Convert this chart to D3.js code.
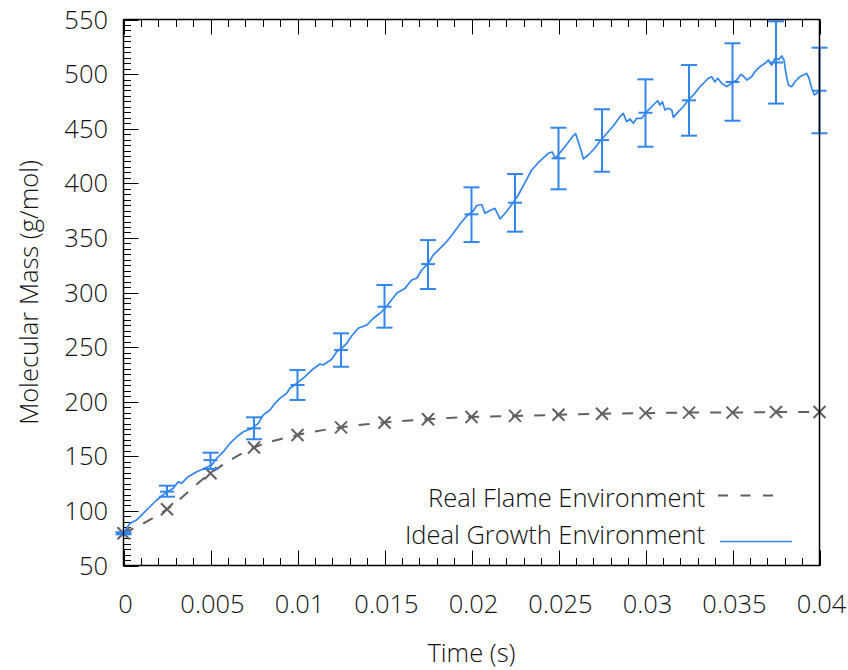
<!DOCTYPE html>
<html>
<head>
<meta charset="utf-8">
<script src="https://cdn.jsdelivr.net/npm/d3@7"></script>
<style>
  html, body { margin: 0; padding: 0; background: #fff; }
  svg text { font-family: "Open Sans", "Noto Sans", sans-serif; font-weight: 300; fill: #111; }
</style>
</head>
<body>
<svg id="chart" width="848" height="670"></svg>
<script>
// Ideal growth environment: simulated molecular mass trace
const idealTime = [0, 0.00037, 0.00076, 0.00114, 0.00162, 0.00191, 0.00239, 0.00286, 0.00315, 0.00334,
  0.00372, 0.00421, 0.00468, 0.00507, 0.00536, 0.00574, 0.00612, 0.00651, 0.00689, 0.00737,
  0.00775, 0.00803, 0.00842, 0.00871, 0.00899, 0.00938, 0.00957, 0.00995, 0.01043, 0.01082,
  0.01129, 0.01148, 0.01197, 0.01225, 0.01254, 0.01283, 0.01311, 0.01349, 0.01398, 0.01436,
  0.01474, 0.01503, 0.01532, 0.01570, 0.01618, 0.01656, 0.01685, 0.01714, 0.01752, 0.01780,
  0.01819, 0.01857, 0.01895, 0.01934, 0.01972, 0.02010, 0.02030, 0.02059, 0.02078, 0.02106,
  0.02135, 0.02164, 0.02202, 0.02240, 0.02269, 0.02307, 0.02346, 0.02382, 0.02413, 0.02441,
  0.02463, 0.02483, 0.02517, 0.02552, 0.02583, 0.02598, 0.02614, 0.02629, 0.02643, 0.02671,
  0.02704, 0.02739, 0.02779, 0.02819, 0.02853, 0.02872, 0.02892, 0.02911, 0.02930, 0.02949,
  0.02978, 0.03016, 0.03045, 0.03070, 0.03083, 0.03097, 0.03112, 0.03131, 0.03151, 0.03160,
  0.03189, 0.03217, 0.03246, 0.03284, 0.03313, 0.03342, 0.03361, 0.03380, 0.03399, 0.03415,
  0.03438, 0.03467, 0.03495, 0.03524, 0.03549, 0.03562, 0.03582, 0.03610, 0.03629, 0.03658,
  0.03687, 0.03706, 0.03725, 0.03744, 0.03767, 0.03783, 0.03796, 0.03807, 0.03821, 0.03840,
  0.03859, 0.03888, 0.03907, 0.03926, 0.03940, 0.03955, 0.03970, 0.03984, 0.04000];
const idealMass = [79.8, 88.6, 91.7, 97.8, 105.4, 110.0, 116.1, 120.7, 126.7, 125.3,
  131.3, 135.9, 139.0, 142.0, 148.2, 154.2, 161.9, 167.9, 172.5, 175.6,
  180.2, 187.8, 192.4, 198.5, 203.1, 207.7, 212.3, 216.8, 222.9, 229.0,
  234.5, 233.6, 238.8, 245.8, 248.9, 253.5, 260.2, 267.2, 270.2, 276.4,
  281.0, 285.5, 291.6, 299.3, 303.8, 311.4, 313.0, 320.6, 326.7, 334.3,
  340.5, 346.5, 354.2, 362.7, 370.1, 374.6, 379.7, 380.6, 372.5, 375.1,
  377.1, 367.3, 374.2, 382.4, 389.3, 400.7, 412.2, 418.6, 423.2, 427.5,
  428.7, 422.9, 429.6, 436.6, 443.3, 445.6, 437.8, 430.5, 422.3, 425.9,
  431.4, 438.7, 445.8, 453.4, 461.0, 464.1, 456.4, 458.9, 454.9, 459.5,
  459.5, 467.1, 471.7, 475.6, 471.7, 474.7, 467.1, 468.7, 467.1, 460.4,
  465.6, 470.1, 476.3, 482.4, 488.5, 493.0, 496.2, 497.6, 493.0, 496.2,
  491.6, 488.5, 491.6, 494.6, 499.8, 498.3, 494.6, 497.6, 502.2, 506.8,
  509.9, 512.9, 508.3, 514.5, 513.5, 516.6, 512.9, 500.7, 490.0, 488.5,
  493.0, 497.6, 499.2, 500.7, 496.2, 487.0, 480.9, 482.4, 484.8];

// Error bars on the ideal trace, every 2.5 ms
const errTime = [0, 0.0025, 0.005, 0.0075, 0.01, 0.0125, 0.015, 0.0175, 0.02,
  0.0225, 0.025, 0.0275, 0.03, 0.0325, 0.035, 0.0375, 0.04];
const errMean = [79.5, 117.6, 146.5, 175.6, 215.3, 247.3, 287.0, 326.0, 371.6,
  382.2, 422.9, 439.6, 464.6, 476.0, 492.8, 510.6, 484.8];
const errLow = [78.5, 113.0, 138.4, 165.6, 201.6, 232.0, 267.8, 303.2, 346.2,
  355.7, 394.5, 410.6, 433.5, 443.6, 457.3, 473.0, 445.8];
const errHigh = [80.5, 123.1, 153.3, 185.7, 229.0, 262.6, 306.9, 348.0, 396.3,
  408.5, 450.9, 467.8, 495.2, 508.3, 528.2, 548.3, 524.2];

// Real flame environment
const flameTime = [0, 0.0025, 0.005, 0.0075, 0.01, 0.0125, 0.015, 0.0175, 0.02,
  0.0225, 0.025, 0.0275, 0.03, 0.0325, 0.035, 0.0375, 0.04];
const flameMass = [79.5, 101.5, 134.5, 158.0, 169.5, 176.5, 181.0, 184.0, 186.0,
  187.0, 188.0, 189.0, 189.5, 190.0, 190.0, 190.5, 190.5];

// Axis ticks
const xTicks = [0, 0.005, 0.01, 0.015, 0.02, 0.025, 0.03, 0.035, 0.04];
const xTickLabels = ["0", "0.005", "0.01", "0.015", "0.02", "0.025", "0.03", "0.035", "0.04"];
const yTicks = [50, 100, 150, 200, 250, 300, 350, 400, 450, 500, 550];

const seriesNames = ["Real Flame Environment", "Ideal Growth Environment"];
const blue = "#3385f0";
const grey = "#606060";
const fontSize = 25.5;

const margin = { left: 123.5, right: 28.5, top: 19.5, bottom: 104.5 };
const W = 848, H = 670;
const svg = d3.select("#chart");

const x = d3.scaleLinear().domain([0, 0.04]).range([margin.left, W - margin.right]);
const y = d3.scaleLinear().domain([50, 550]).range([H - margin.bottom, margin.top]);

const x0 = x.range()[0], x1 = x.range()[1];
const y0 = y.range()[0], y1 = y.range()[1];

// Minor and major ticks, drawn inward
const xMinor = d3.range(0, 41).map(i => i * 0.001);
const yMinor = d3.range(0, 101).map(i => 50 + i * 5);

const tickG = svg.append("g").attr("stroke", "#000").attr("stroke-width", 1);
xMinor.forEach((v, i) => {
  const len = (i % 5 === 0) ? 15 : 7.5;
  const px = Math.round(x(v)) + 0.5;
  tickG.append("line").attr("x1", px).attr("x2", px).attr("y1", y0).attr("y2", y0 - len);
  tickG.append("line").attr("x1", px).attr("x2", px).attr("y1", y1).attr("y2", y1 + len);
});
yMinor.forEach((v, i) => {
  const len = (i % 10 === 0) ? 15 : 7.5;
  const py = Math.round(y(v)) + 0.5;
  tickG.append("line").attr("x1", x0).attr("x2", x0 + len).attr("y1", py).attr("y2", py);
});

// Tick labels
svg.append("g").selectAll("text").data(xTicks).join("text")
  .attr("x", d => x(d) + 2)
  .attr("y", 613)
  .attr("text-anchor", "middle")
  .attr("font-size", fontSize)
  .text((d, i) => xTickLabels[i]);

svg.append("g").selectAll("text").data(yTicks).join("text")
  .attr("x", 108)
  .attr("y", d => y(d) + 9)
  .attr("text-anchor", "end")
  .attr("font-size", fontSize)
  .text(d => d);

// Axis titles
svg.append("text")
  .attr("x", (x0 + x1) / 2).attr("y", 662)
  .attr("text-anchor", "middle").attr("font-size", fontSize)
  .text("Time (s)");
svg.append("text")
  .attr("transform", `translate(38,${(y0 + y1) / 2}) rotate(-90)`)
  .attr("text-anchor", "middle").attr("font-size", fontSize)
  .text("Molecular Mass (g/mol)");

// Real flame series: dashed curve with x markers
const flame = flameTime.map((t, i) => [t, flameMass[i]]);
svg.append("path")
  .datum(flame)
  .attr("fill", "none")
  .attr("stroke", grey)
  .attr("stroke-width", 2)
  .attr("stroke-dasharray", "11,11")
  .attr("d", d3.line().x(d => x(d[0])).y(d => y(d[1])).curve(d3.curveMonotoneX));

const crossR = 6;
svg.append("g").attr("stroke", grey).attr("stroke-width", 2)
  .selectAll("path").data(flame).join("path")
  .attr("d", d => {
    const cx = x(d[0]), cy = y(d[1]);
    return `M${cx - crossR},${cy - crossR}L${cx + crossR},${cy + crossR}M${cx - crossR},${cy + crossR}L${cx + crossR},${cy - crossR}`;
  });

// Ideal growth series: noisy trace
const ideal = idealTime.map((t, i) => [t, idealMass[i]]);
svg.append("path")
  .datum(ideal)
  .attr("fill", "none")
  .attr("stroke", blue)
  .attr("stroke-width", 1.7)
  .attr("stroke-linejoin", "round")
  .attr("d", d3.line().x(d => x(d[0])).y(d => y(d[1])));

// Error bars with caps and centre mark
const cap = 8;
const errG = svg.append("g").attr("stroke", blue).attr("stroke-width", 2);
errTime.forEach((t, i) => {
  const cx = x(t);
  errG.append("line").attr("x1", cx).attr("x2", cx).attr("y1", y(errLow[i])).attr("y2", y(errHigh[i]));
  errG.append("line").attr("x1", cx - cap).attr("x2", cx + cap).attr("y1", y(errLow[i])).attr("y2", y(errLow[i]));
  errG.append("line").attr("x1", cx - cap).attr("x2", cx + cap).attr("y1", y(errHigh[i])).attr("y2", y(errHigh[i]));
  errG.append("line").attr("x1", cx - cap + 1).attr("x2", cx + cap - 1).attr("y1", y(errMean[i])).attr("y2", y(errMean[i]));
});

// Plot frame
svg.append("rect")
  .attr("x", x0).attr("y", y1)
  .attr("width", x1 - x0).attr("height", y0 - y1)
  .attr("fill", "none").attr("stroke", "#000").attr("stroke-width", 1.5);

// Legend
const legend = svg.append("g");
legend.append("text").attr("x", 705).attr("y", 507).attr("text-anchor", "end")
  .attr("font-size", fontSize).text(seriesNames[0]);
legend.append("line").attr("x1", 718).attr("x2", 778).attr("y1", 495.5).attr("y2", 495.5)
  .attr("stroke", grey).attr("stroke-width", 2).attr("stroke-dasharray", "10,12.5");
legend.append("text").attr("x", 705).attr("y", 544).attr("text-anchor", "end")
  .attr("font-size", fontSize).text(seriesNames[1]);
legend.append("line").attr("x1", 720).attr("x2", 792).attr("y1", 541.5).attr("y2", 541.5)
  .attr("stroke", blue).attr("stroke-width", 1.7);
</script>
</body>
</html>
